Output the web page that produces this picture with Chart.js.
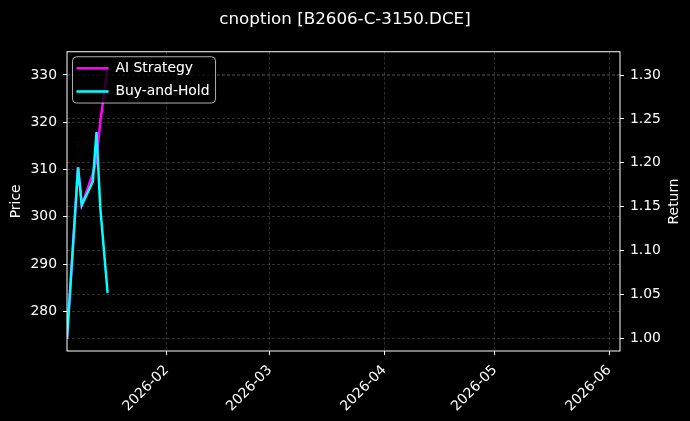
<!DOCTYPE html>
<html>
<head>
<meta charset="utf-8">
<script src="https://cdn.jsdelivr.net/npm/chart.js@4.4.1/dist/chart.umd.min.js"></script>
<style>
  html, body { margin: 0; padding: 0; background: #000; }
  canvas { display: block; }
</style>
</head>
<body>
<canvas id="chart" width="690" height="421"></canvas>
<script>
const dates = ['2026-01-05', '2026-01-08', '2026-01-09', '2026-01-12', '2026-01-13', '2026-01-14', '2026-01-16'];
const aiStrategy = [1.000, 1.195, 1.152, 1.188, 1.203, 1.246, 1.310];
const buyAndHold = [1.000, 1.195, 1.152, 1.179, 1.235, 1.150, 1.052];
const price = [274.5, 316.0, 312.8, 318.0, 332.0, 315.0, 296.0];

const priceTicks = [280, 290, 300, 310, 320, 330];
const returnTicks = [1.00, 1.05, 1.10, 1.15, 1.20, 1.25, 1.30];
const monthTicks = ['2026-02', '2026-03', '2026-04', '2026-05', '2026-06'];

// days since 2026-01-01
function toDay(s) {
  const p = s.split('-').map(Number);
  return (Date.UTC(p[0], p[1] - 1, p[2] || 1) - Date.UTC(2026, 0, 1)) / 86400000;
}

function points(values) {
  return values.map((v, i) => ({ x: toDay(dates[i]), y: v }));
}

Chart.defaults.font.family = 'DejaVu Sans';
Chart.defaults.font.size = 13.9;
Chart.defaults.color = '#fff';

const gridColor = 'rgba(255,255,255,0.22)';
const legendPad = 9.5;

const framePlugin = {
  id: 'frame',
  afterLayout(chart) {
    // legend in 'chartArea' loses its top on update, put it back inside the plot
    const lg = chart.legend;
    const a = chart.chartArea;
    lg.top = a.top;
    lg.bottom = a.bottom;
    lg.height = a.bottom - a.top;
  },
  beforeDraw(chart) {
    const ctx = chart.ctx;
    ctx.save();
    ctx.fillStyle = '#000';
    ctx.fillRect(0, 0, chart.width, chart.height);
    ctx.restore();
  },
  afterDatasetsDraw(chart) {
    // legend sits on top of the lines, with a dark box behind it
    const lg = chart.legend;
    const hb = lg.legendHitBoxes;
    if (!hb || !hb.length) return;
    const rowsH = hb.reduce((s, h) => s + h.height, 0) + legendPad * (hb.length - 1);
    const l = Math.min(...hb.map(h => h.left)) - 4;
    const r = Math.max(...hb.map(h => h.left + h.width)) + 6;
    const t = lg.top + legendPad - 4.5;
    const b = lg.top + legendPad + rowsH + 4.5;
    const ctx = chart.ctx;
    ctx.save();
    ctx.beginPath();
    ctx.roundRect(l, t, r - l, b - t, 4);
    ctx.fillStyle = 'rgba(0,0,0,0.8)';
    ctx.fill();
    ctx.lineWidth = 1;
    ctx.strokeStyle = 'rgba(204,204,204,0.85)';
    ctx.stroke();
    ctx.restore();
    lg.draw();
  },
  afterDraw(chart) {
    const ctx = chart.ctx;
    const a = chart.chartArea;
    ctx.save();
    ctx.strokeStyle = '#fff';
    ctx.lineWidth = 1;
    ctx.strokeRect(a.left, a.top, a.right - a.left, a.bottom - a.top);
    // right axis title, reading bottom to top like the left one
    const s = chart.scales.y1;
    ctx.translate(s.right - 16, (a.top + a.bottom) / 2);
    ctx.rotate(-Math.PI / 2);
    ctx.fillStyle = '#fff';
    ctx.font = '13.9px "DejaVu Sans"';
    ctx.textAlign = 'center';
    ctx.textBaseline = 'middle';
    ctx.fillText('Return', 0, 0);
    ctx.restore();
  }
};

new Chart(document.getElementById('chart'), {
  type: 'line',
  data: {
    datasets: [{
      label: 'AI Strategy',
      data: points(aiStrategy),
      yAxisID: 'y1',
      borderColor: '#ff00ff',
      backgroundColor: '#ff00ff',
      borderWidth: 2.5,
      pointRadius: 0,
      order: 1
    }, {
      label: 'Buy-and-Hold',
      data: points(buyAndHold),
      yAxisID: 'y1',
      borderColor: '#00ffff',
      backgroundColor: '#00ffff',
      borderWidth: 2.5,
      pointRadius: 0,
      order: 0
    }, {
      label: 'Price',
      data: points(price),
      yAxisID: 'y',
      borderColor: 'rgba(139,0,0,0.3)',
      borderWidth: 1,
      borderDash: [2, 3],
      pointRadius: 0,
      order: 2
    }]
  },
  options: {
    responsive: false,
    animation: false,
    layout: { padding: 0 },
    scales: {
      x: {
        type: 'linear',
        min: toDay(dates[0]),
        max: 153.9,
        afterBuildTicks(scale) {
          scale.ticks = monthTicks.map(m => ({ value: toDay(m) }));
        },
        afterFit(scale) { scale.height = 70; },
        ticks: {
          autoSkip: false,
          minRotation: 45,
          maxRotation: 45,
          padding: 7,
          color: '#fff',
          callback: (v, i) => monthTicks[i]
        },
        grid: { color: gridColor, lineWidth: 0.8, tickLength: 4, tickColor: '#fff', tickWidth: 1, tickBorderDash: [] },
        border: { display: false, dash: [3, 2] }
      },
      y: {
        position: 'left',
        min: 271.6,
        max: 334.9,
        afterBuildTicks(scale) {
          scale.ticks = priceTicks.map(v => ({ value: v }));
        },
        afterFit(scale) { scale.width = 67; },
        title: { display: true, text: 'Price', color: '#fff', padding: { top: 8, bottom: 0 } },
        ticks: { color: '#fff', padding: 6, callback: v => String(v) },
        grid: { color: gridColor, lineWidth: 0.8, tickLength: 4, tickColor: '#fff', tickWidth: 1, tickBorderDash: [] },
        border: { display: false, dash: [3, 2] }
      },
      y1: {
        position: 'right',
        min: 0.9859,
        max: 1.3265,
        afterBuildTicks(scale) {
          scale.ticks = returnTicks.map(v => ({ value: v }));
        },
        afterFit(scale) { scale.width = 70; },
        ticks: { color: '#fff', padding: 6, callback: v => v.toFixed(2) },
        grid: { color: gridColor, lineWidth: 0.8, tickLength: 4, tickColor: '#fff', tickWidth: 1, tickBorderDash: [] },
        border: { display: false, dash: [3, 2] }
      }
    },
    plugins: {
      title: {
        display: true,
        text: 'cnoption [B2606-C-3150.DCE]',
        color: '#fff',
        font: { size: 16.7, weight: 'normal' },
        padding: { top: 10, bottom: 21.7 }
      },
      legend: {
        position: 'chartArea',
        align: 'start',
        labels: {
          usePointStyle: true,
          pointStyle: 'line',
          pointStyleWidth: 32,
          padding: legendPad,
          color: '#fff',
          font: { size: 13.9 },
          filter: item => item.datasetIndex < 2,
          sort: (a, b) => a.datasetIndex - b.datasetIndex
        }
      },
      tooltip: { enabled: false }
    }
  },
  plugins: [framePlugin]
});
</script>
</body>
</html>
